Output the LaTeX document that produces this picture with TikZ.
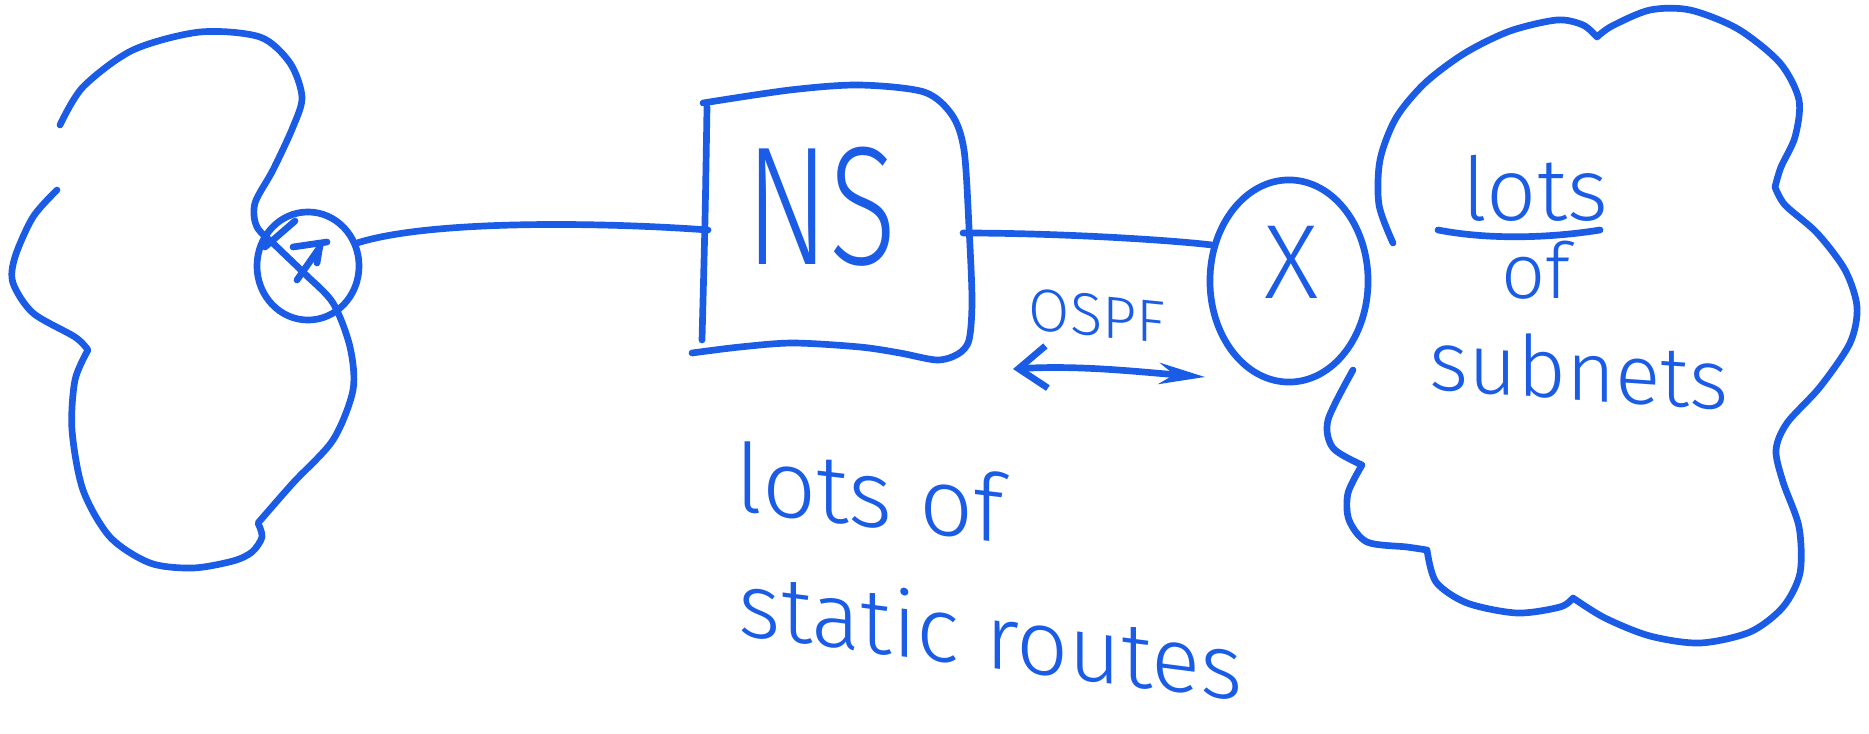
\documentclass[tikz,border=0pt]{standalone}
\usepackage{fontspec}
\usepackage{graphicx}
\setmainfont{Fira Sans}
\newfontfamily\hand{Fira Sans Light}
\usetikzlibrary{shapes.geometric,arrows.meta}
\definecolor{ink}{RGB}{26,92,230}
\begin{document}
\begin{tikzpicture}[x=0.01cm,y=-0.01cm,
  pen/.style={draw=ink, line width=1.9pt, line cap=round, line join=round},
  hw/.style={text=ink, inner sep=0pt}]
\useasboundingbox (0,0) rectangle (1869,733);
\fill[white] (0,0) rectangle (1869,733);

% ---------- left cloud ----------
\draw[pen] plot[smooth] coordinates {(60,125) (83,87) (133,50) (200,32) (260,37) (290,63) (302,97) (293,127) (273,170) (255,203) (257,227) (277,247) (305,274) (333,303) (350,347) (353,390) (333,440) (293,483) (258,523)}
  -- plot[smooth] coordinates {(258,523) (262,537) (252,552) (233,561) (193,568) (150,563) (110,537) (83,490) (72,430) (75,380) (88,350)}
  -- plot[smooth] coordinates {(88,350) (75,337) (33,313) (13,283) (15,257) (33,217) (57,190)};

% left router circle
\node[pen, ellipse, minimum width=1.02cm, minimum height=1.08cm, inner sep=0pt] (lc) at (308,266) {};
\draw[pen] (295,221) -- (265,247);
\draw[pen] (293,247) -- (327,242);
\draw[pen] (320,245) -- (317,263);
\draw[pen] (297,280) -- (320,247);

% ---------- NS box ----------
\draw[pen] plot[smooth] coordinates {(707,107) (705,220) (702,340)};
\draw[pen] plot[smooth] coordinates {(703,103) (790,90) (859,85) (924,92) (952,115) (964,150) (969,227) (972,300) (969,340) (958,354) (937,360) (900,353) (860,347) (793,343) (740,347) (692,353)};
\node[hw, font=\hand\fontsize{48}{56}\selectfont, anchor=base] (ns) at (821,264) {\scalebox{0.74}[1]{NS}};
\coordinate (nsW) at (708,230);
\coordinate (nsE) at (963,233);

% ---------- right router ----------
\node[pen, ellipse, minimum width=1.58cm, minimum height=2.02cm, inner sep=0pt] (rc) at (1289,281) {};
\node[hw, font=\hand\fontsize{30}{34}\selectfont] (rx) at (1292,262) {X};

% connectors
\draw[pen] (lc.25) .. controls (430,220) and (600,222) .. (nsW);
\draw[pen] (nsE) .. controls (1060,233) and (1170,240) .. (rc.155);

% OSPF
\node[hw, font=\hand\fontsize{17}{20}\selectfont, yslant=-0.1] (ospf) at (1097,316) {OSPF};
\coordinate (oL) at (1013,369);
\coordinate (oR) at (1205,377);
\draw[pen, {Straight Barb[length=8pt,width=12pt]}-{Stealth[length=13pt,width=6pt]}] (oL) .. controls (1080,365) and (1140,372) .. (oR);

% ---------- right cloud ----------
\draw[pen] plot[smooth] coordinates {(1393,243) (1379,205) (1380,160) (1396,118) (1425,83) (1465,53) (1510,31) (1557,20) (1583,25) (1597,37)}
  -- plot[smooth] coordinates {(1597,37) (1612,26) (1650,10) (1690,10) (1738,29) (1780,63) (1799,100) (1795,137) (1781,167) (1775,187)}
  -- plot[smooth] coordinates {(1775,187) (1785,205) (1817,233) (1845,270) (1857,307) (1850,343) (1820,387) (1787,423) (1776,450) (1783,482) (1799,527) (1800,573) (1783,607) (1750,632) (1700,643) (1650,636) (1605,618) (1573,598)}
  -- plot[smooth] coordinates {(1573,598) (1560,607) (1517,613) (1467,603) (1436,582) (1427,550)}
  -- plot[smooth] coordinates {(1427,550) (1407,547) (1367,542) (1349,520) (1348,493) (1362,465)}
  -- plot[smooth] coordinates {(1362,465) (1333,448) (1328,420) (1353,370)};

\node[hw, font=\hand\fontsize{25}{30}\selectfont, anchor=base] (lotsR) at (1535,220) {lots};
\draw[pen] (1438,230) .. controls (1490,240) and (1550,238) .. (1600,230);
\node[hw, font=\hand\fontsize{22}{26}\selectfont, anchor=base] (ofR) at (1536,298) {of};
\node[hw, font=\hand\fontsize{24}{28}\selectfont, anchor=base, yslant=-0.07] (subnets) at (1579,400) {subnets};

% ---------- bottom text ----------
\node[hw, font=\hand\fontsize{27}{32}\selectfont, anchor=base, yslant=-0.12] (lotsB) at (870,527) {lots of};
\node[hw, font=\hand\fontsize{26}{30}\selectfont, anchor=base, yslant=-0.13] (static) at (991,668) {static routes};
\end{tikzpicture}
\end{document}
